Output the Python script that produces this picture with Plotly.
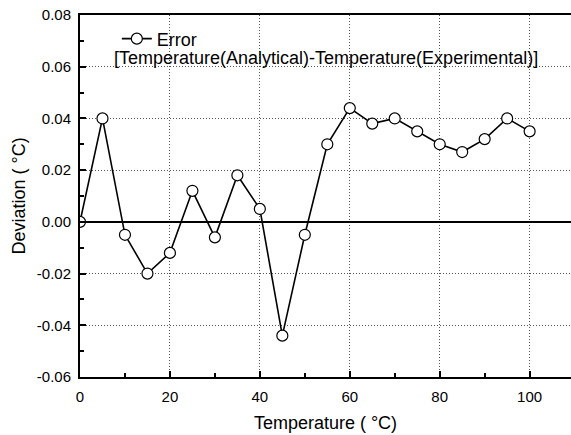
import plotly.graph_objects as go

temperature = [0, 5, 10, 15, 20, 25, 30, 35, 40, 45, 50, 55, 60, 65, 70, 75, 80, 85, 90, 95, 100]
deviation = [0.000, 0.040, -0.005, -0.020, -0.012, 0.012, -0.006, 0.018, 0.005, -0.044, -0.005,
             0.030, 0.044, 0.038, 0.040, 0.035, 0.030, 0.027, 0.032, 0.040, 0.035]
series_name = "Error"
legend_line2 = "[Temperature(Analytical)-Temperature(Experimental)]"
x_title = "Temperature ( °C)"
y_title = "Deviation ( °C)"
y_tick_values = [-0.06, -0.04, -0.02, 0.00, 0.02, 0.04, 0.06, 0.08]
y_tick_labels = ["-0.06", "-0.04", "-0.02", "0.00", "0.02", "0.04", "0.06", "0.08"]
x_tick_values = [0, 20, 40, 60, 80, 100]
x_tick_labels = ["0", "20", "40", "60", "80", "100"]

font_family = "Arial, Liberation Sans, sans-serif"

fig = go.Figure()
fig.add_trace(go.Scatter(
    x=temperature, y=deviation, mode="lines+markers", name=series_name,
    line=dict(color="black", width=1.6),
    marker=dict(symbol="circle", size=11, color="white", line=dict(color="black", width=1.2)),
    cliponaxis=True,
))

fig.update_layout(
    width=571, height=435,
    margin=dict(l=80, r=0, t=15, b=58),
    paper_bgcolor="white", plot_bgcolor="white",
    font=dict(family=font_family, color="black", size=15),
    showlegend=True,
    legend=dict(x=0.075, y=0.985, xanchor="left", yanchor="top",
                font=dict(size=18, family=font_family), bgcolor="rgba(0,0,0,0)",
                itemwidth=30),
)

fig.add_annotation(text=legend_line2, xref="paper", yref="paper",
                   x=0.066, y=0.882, xanchor="left", yanchor="middle",
                   showarrow=False, font=dict(size=18, family=font_family, color="black"))

grid_dash = "1px,2px"
fig.update_xaxes(
    range=[0, 109.2], tickvals=x_tick_values, ticktext=x_tick_labels,
    showline=True, linecolor="black", linewidth=2, mirror=True,
    ticks="inside", ticklen=6, tickwidth=2, tickcolor="black", ticklabelstandoff=5,
    minor=dict(ticks="inside", ticklen=4, dtick=10, tick0=0, tickcolor="black", tickwidth=1.5, showgrid=False),
    showgrid=True, gridcolor="#555", griddash=grid_dash, gridwidth=1,
    zeroline=False,
    tickfont=dict(size=15),
    title=dict(text=x_title, font=dict(size=18), standoff=12),
)
fig.update_yaxes(
    range=[-0.06, 0.08], tickvals=y_tick_values, ticktext=y_tick_labels,
    showline=True, linecolor="black", linewidth=2,
    ticks="inside", ticklen=6, tickwidth=2, tickcolor="black", ticklabelstandoff=4,
    minor=dict(ticks="inside", ticklen=4, dtick=0.01, tick0=0, tickcolor="black", tickwidth=1.5, showgrid=False),
    showgrid=True, gridcolor="#555", griddash=grid_dash, gridwidth=1,
    zeroline=True, zerolinecolor="black", zerolinewidth=1.8,
    tickfont=dict(size=15),
    title=dict(text=y_title, font=dict(size=18), standoff=6),
)

fig.write_html("out.html")
